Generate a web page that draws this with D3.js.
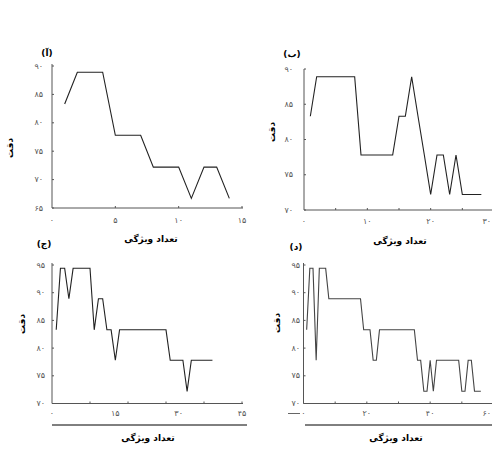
<!DOCTYPE html>
<html>
<head>
<meta charset="utf-8">
<script src="https://cdn.jsdelivr.net/npm/d3@7"></script>
<style>
  body { margin: 0; background: #fff; }
  svg { display: block; font-family: "DejaVu Sans", sans-serif; }
  .tick-label { font-size: 8px; fill: #555; }
  .title { font-size: 9px; font-weight: bold; fill: #000; }
</style>
</head>
<body>
<div id="chart"></div>
<script>
// accuracy (%) against number of selected features, starting at 1 feature
const accA = [83.3, 88.9, 88.9, 88.9, 77.8, 77.8, 77.8, 72.2, 72.2, 72.2, 66.7, 72.2, 72.2, 66.7];
const accB = [83.3, 88.9, 88.9, 88.9, 88.9, 88.9, 88.9, 88.9, 77.8, 77.8, 77.8, 77.8, 77.8, 77.8,
              83.3, 83.3, 88.9, 83.3, 77.8, 72.2, 77.8, 77.8, 72.2, 77.8, 72.2, 72.2, 72.2, 72.2];
const accC = [83.3, 94.4, 94.4, 88.9, 94.4, 94.4, 94.4, 94.4, 94.4, 83.3, 88.9, 88.9, 83.3, 83.3,
              77.8, 83.3, 83.3, 83.3, 83.3, 83.3, 83.3, 83.3, 83.3, 83.3, 83.3, 83.3, 83.3, 77.8,
              77.8, 77.8, 77.8, 72.2, 77.8, 77.8, 77.8, 77.8, 77.8, 77.8];
const accD = [83.3, 94.4, 94.4, 77.8, 94.4, 94.4, 94.4, 88.9, 88.9, 88.9, 88.9, 88.9, 88.9, 88.9,
              88.9, 88.9, 88.9, 88.9, 83.3, 83.3, 83.3, 77.8, 77.8, 83.3, 83.3, 83.3, 83.3, 83.3,
              83.3, 83.3, 83.3, 83.3, 83.3, 83.3, 83.3, 77.8, 77.8, 72.2, 72.2, 77.8, 72.2, 77.8,
              77.8, 77.8, 77.8, 77.8, 77.8, 77.8, 77.8, 72.2, 72.2, 77.8, 77.8, 72.2, 72.2, 72.2];

// tick values: labelled ticks and bare tick marks
const xLabelsA = [0, 5, 10, 15],  xMarksA = [5, 10, 15];
const xLabelsB = [0, 10, 20, 30], xMarksB = [5, 10, 15, 20, 25, 30];
const xLabelsC = [0, 15, 30, 45], xMarksC = [9, 18, 27, 36, 45];
const xLabelsD = [0, 20, 40, 60], xMarksD = [10, 20, 30, 40, 50, 60];
const yTicksA = [65, 70, 75, 80, 85, 90];
const yTicksB = [70, 75, 80, 85, 90];
const yTicksCD = [70, 75, 80, 85, 90, 95];

const panelNames = ['(آ)', '(ب)', '(ج)', '(د)'];
const xTitle = 'تعداد ویژگی';
const yTitle = 'دقت';

const fa = d3.format('d');
const toFa = v => fa(v).replace(/\d/g, c => '۰۱۲۳۴۵۶۷۸۹'[c]);

const W = 492, H = 466;
const svg = d3.select('#chart').append('svg')
    .attr('width', W)
    .attr('height', H);

const panels = [
    {data: accA, name: panelNames[0], xDom: [0, 15], xR: [52, 242], yDom: [65, 90], yR: [208, 66],
     axisTop: 64, axisEnd: 243, xLabels: xLabelsA, xMarks: xMarksA, yTicks: yTicksA,
     yLabX: 43, xLabY: 220, nameXY: [47, 53], xtXY: [151, 239], ytXY: [10, 148]},
    {data: accB, name: panelNames[1], xDom: [0, 30], xR: [304, 494], yDom: [70, 90], yR: [210, 69],
     axisTop: 69, axisEnd: 492, xLabels: xLabelsB, xMarks: xMarksB, yTicks: yTicksB,
     yLabX: 293, xLabY: 221, nameXY: [292, 54], xtXY: [400, 241], ytXY: [272, 132]},
    {data: accC, name: panelNames[2], xDom: [0, 45], xR: [52, 242], yDom: [70, 95], yR: [403.5, 265],
     axisTop: 263, axisEnd: 243, xLabels: xLabelsC, xMarks: xMarksC, yTicks: yTicksCD,
     yLabX: 45, xLabY: 413, nameXY: [44, 244], xtXY: [148, 438], ytXY: [22, 324], rule: [52, 247, 425]},
    {data: accD, name: panelNames[3], xDom: [0, 60], xR: [303.5, 493.5], yDom: [70, 95], yR: [403.5, 265],
     axisTop: 263, axisEnd: 492, xLabels: xLabelsD, xMarks: xMarksD, yTicks: yTicksCD,
     yLabX: 300, xLabY: 413, nameXY: [296, 247], xtXY: [396, 438], ytXY: [277, 323], rule: [305, 492, 425],
     underline: true, lineColor: '#444'}
];

panels.forEach(p => {
    const x = d3.scaleLinear().domain(p.xDom).range(p.xR);
    const y = d3.scaleLinear().domain(p.yDom).range(p.yR);
    const g = svg.append('g');
    const x0 = p.xR[0], y0 = p.yR[0];

    // axis lines
    g.append('line')
        .attr('x1', x0).attr('x2', x0)
        .attr('y1', p.axisTop).attr('y2', y0)
        .attr('stroke', '#555').attr('stroke-width', 1);
    g.append('line')
        .attr('x1', x0).attr('x2', p.axisEnd)
        .attr('y1', y0).attr('y2', y0)
        .attr('stroke', '#555').attr('stroke-width', 1);

    // inner tick marks
    g.selectAll('.xm').data(p.xMarks).join('line')
        .attr('x1', d => x(d)).attr('x2', d => x(d))
        .attr('y1', y0).attr('y2', y0 - 2)
        .attr('stroke', '#555');
    g.selectAll('.ym').data(p.yTicks).join('line')
        .attr('x1', x0).attr('x2', x0 + 2)
        .attr('y1', d => y(d)).attr('y2', d => y(d))
        .attr('stroke', '#555');

    // tick labels (last one kept inside the page edge)
    g.selectAll('.xl').data(p.xLabels).join('text')
        .attr('class', 'tick-label')
        .attr('x', d => Math.min(x(d), W - 1))
        .attr('y', p.xLabY)
        .attr('text-anchor', d => x(d) > W - 6 ? 'end' : 'middle')
        .attr('dominant-baseline', 'middle')
        .text(toFa);
    g.selectAll('.yl').data(p.yTicks).join('text')
        .attr('class', 'tick-label')
        .attr('x', p.yLabX)
        .attr('y', d => y(d))
        .attr('text-anchor', 'end')
        .attr('dominant-baseline', 'middle')
        .text(toFa);

    // accuracy line
    const line = d3.line()
        .x((d, i) => x(i + 1))
        .y(d => y(d));
    g.append('path')
        .datum(p.data)
        .attr('d', line)
        .attr('fill', 'none')
        .attr('stroke', p.lineColor || '#222')
        .attr('stroke-width', 1.1);

    // rule under the axis (bottom panels)
    if (p.rule) {
        g.append('line')
            .attr('x1', p.rule[0]).attr('x2', p.rule[1])
            .attr('y1', p.rule[2]).attr('y2', p.rule[2])
            .attr('stroke', '#000').attr('stroke-width', 1);
    }
    if (p.underline) {
        g.append('line')
            .attr('x1', p.yLabX - 12).attr('x2', p.yLabX)
            .attr('y1', y(p.yDom[0]) + 10).attr('y2', y(p.yDom[0]) + 10)
            .attr('stroke', '#666');
    }

    // titles
    g.append('text')
        .attr('class', 'title')
        .attr('x', p.nameXY[0]).attr('y', p.nameXY[1])
        .attr('text-anchor', 'middle')
        .attr('dominant-baseline', 'middle')
        .text(p.name);
    g.append('text')
        .attr('class', 'title')
        .attr('x', p.xtXY[0]).attr('y', p.xtXY[1])
        .attr('text-anchor', 'middle')
        .attr('dominant-baseline', 'middle')
        .text(xTitle);
    g.append('text')
        .attr('class', 'title')
        .attr('transform', `translate(${p.ytXY[0]},${p.ytXY[1]}) rotate(-90)`)
        .attr('text-anchor', 'middle')
        .attr('dominant-baseline', 'middle')
        .text(yTitle);
});
</script>
</body>
</html>
